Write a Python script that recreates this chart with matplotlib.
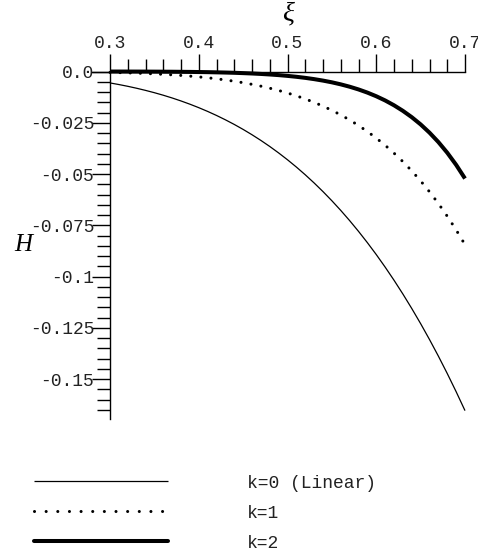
import matplotlib
matplotlib.use("Agg")
import matplotlib.pyplot as plt
from matplotlib.lines import Line2D
from matplotlib.ticker import FixedLocator, FixedFormatter

# ---- data -----------------------------------------------------------------
xi = [0.30, 0.31, 0.32, 0.33, 0.34, 0.35, 0.36, 0.37, 0.38, 0.39, 0.40,
      0.41, 0.42, 0.43, 0.44, 0.45, 0.46, 0.47, 0.48, 0.49, 0.50,
      0.51, 0.52, 0.53, 0.54, 0.55, 0.56, 0.57, 0.58, 0.59, 0.60,
      0.61, 0.62, 0.63, 0.64, 0.65, 0.66, 0.67, 0.68, 0.69, 0.70]

# k = 0 (linear)
H_k0 = [-0.00558, -0.00636, -0.00722, -0.00817, -0.00921, -0.01034,
        -0.01157, -0.01291, -0.01437, -0.01594, -0.01764, -0.01947,
        -0.02144, -0.02356, -0.02582, -0.02825, -0.03085, -0.03362,
        -0.03657, -0.03972, -0.04306, -0.04661, -0.05038, -0.05437,
        -0.05859, -0.06305, -0.06776, -0.07273, -0.07797, -0.08349,
        -0.08929, -0.09540, -0.10181, -0.10854, -0.11560, -0.12299,
        -0.13074, -0.13884, -0.14732, -0.15618, -0.16543]

# k = 1
H_k1 = [-0.00044, -0.00054, -0.00066, -0.00080, -0.00096, -0.00115,
        -0.00137, -0.00162, -0.00191, -0.00225, -0.00263, -0.00306,
        -0.00356, -0.00412, -0.00475, -0.00546, -0.00626, -0.00715,
        -0.00815, -0.00925, -0.01049, -0.01186, -0.01338, -0.01505,
        -0.01690, -0.01894, -0.02118, -0.02363, -0.02633, -0.02927,
        -0.03249, -0.03598, -0.03982, -0.04396, -0.04848, -0.05336,
        -0.05868, -0.06438, -0.07059, -0.07726, -0.08447]

# k = 2
H_k2 = [-0.00002, -0.00002, -0.00003, -0.00004, -0.00005, -0.00007,
        -0.00009, -0.00012, -0.00016, -0.00020, -0.00026, -0.00032,
        -0.00041, -0.00051, -0.00063, -0.00079, -0.00097, -0.00119,
        -0.00145, -0.00176, -0.00214, -0.00258, -0.00310, -0.00372,
        -0.00444, -0.00528, -0.00627, -0.00742, -0.00875, -0.01029,
        -0.01207, -0.01412, -0.01648, -0.01919, -0.02228, -0.02581,
        -0.02984, -0.03442, -0.03963, -0.04553, -0.05221]

x_major = [0.3, 0.4, 0.5, 0.6, 0.7]
x_major_labels = ["0.3", "0.4", "0.5", "0.6", "0.7"]
x_minor = [0.32, 0.34, 0.36, 0.38, 0.42, 0.44, 0.46, 0.48, 0.52, 0.54,
           0.56, 0.58, 0.62, 0.64, 0.66, 0.68]

y_major = [0.0, -0.025, -0.05, -0.075, -0.1, -0.125, -0.15]
y_major_labels = ["0.0", "-0.025", "-0.05", "-0.075", "-0.1", "-0.125", "-0.15"]
y_minor = [-0.005 * i for i in range(1, 34) if i % 5 != 0]

legend_labels = ["k=0 (Linear)", "k=1", "k=2"]

# ---- figure ---------------------------------------------------------------
W, H = 478, 558
DPI = 100
fig = plt.figure(figsize=(W / DPI, H / DPI), dpi=DPI)
fig.patch.set_facecolor("white")

# axes fill the whole canvas; limits chosen so the origin (0.3, 0) sits
# at pixel (110, 71.5) with 887.5 px per unit in x and 2050 px per unit in y
ax = fig.add_axes([0, 0, 1, 1])
px_x, px_y = 887.5, 2050.0
ox, oy = 110.0, 71.5
ax.set_xlim(0.3 - ox / px_x, 0.3 + (W - ox) / px_x)
ax.set_ylim(-(H - oy) / px_y, oy / px_y)
ax.patch.set_alpha(0)

mono = "Liberation Mono"
fs = 13

# axes through (0.3, 0)
for s in ("bottom", "right"):
    ax.spines[s].set_visible(False)
ax.spines["top"].set_position(("data", 0.0))
ax.spines["left"].set_position(("data", 0.3))
ax.spines["top"].set_bounds(0.28, 0.7)
ax.spines["left"].set_bounds(-0.1694, 0.0)
for s in ("top", "left"):
    ax.spines[s].set_linewidth(1.0)
    ax.spines[s].set_color("black")

ax.xaxis.set_ticks_position("top")
ax.yaxis.set_ticks_position("left")
ax.xaxis.set_major_locator(FixedLocator(x_major))
ax.xaxis.set_major_formatter(FixedFormatter(x_major_labels))
ax.xaxis.set_minor_locator(FixedLocator(x_minor))
ax.yaxis.set_major_locator(FixedLocator(y_major))
ax.yaxis.set_major_formatter(FixedFormatter(y_major_labels))
ax.yaxis.set_minor_locator(FixedLocator(y_minor))

ax.tick_params(axis="x", which="major", direction="out", length=13.3,
               width=1.0, pad=0.5, labelsize=fs)
ax.tick_params(axis="x", which="minor", direction="out", length=9.4, width=1.0)
ax.tick_params(axis="y", which="major", direction="out", length=13.3,
               width=1.0, pad=-2.0, labelsize=fs)
ax.tick_params(axis="y", which="minor", direction="out", length=9.4, width=1.0)
for lab in ax.get_xticklabels() + ax.get_yticklabels():
    lab.set_fontfamily(mono)
    lab.set_color("#222222")

# curves
ax.plot(xi, H_k0, color="black", lw=0.9, solid_capstyle="butt",
        solid_joinstyle="round", clip_on=False)
ax.plot(xi, H_k1, color="black", lw=2.2, linestyle=(0, (0.01, 3.3)),
        dash_capstyle="round", clip_on=False)
ax.plot(xi, H_k2, color="black", lw=2.9, solid_capstyle="butt",
        solid_joinstyle="round", clip_on=False)

# axis names
serif = "Liberation Serif"
ax.text(0.5, (oy - 20) / px_y, "\u03be", family=serif, style="italic",
        fontsize=20, ha="center", va="baseline")
ax.text(0.3 - (ox - 23) / px_x, -(245 - oy) / px_y, "H", family=serif,
        style="italic", fontsize=18, ha="center", va="center")

# legend drawn below the plot (figure pixel positions)
def fx(p):
    return p / W

def fy(p):
    return 1 - p / H

legend_rows = [481, 511, 541]
styles = [
    dict(lw=0.9, linestyle="-", solid_capstyle="butt"),
    dict(lw=2.2, linestyle=(0, (0.01, 3.8)), dash_capstyle="round"),
    dict(lw=2.9, linestyle="-", solid_capstyle="round"),
]
for row, st, lab, ty in zip(legend_rows, styles, legend_labels, [483, 513, 544]):
    fig.add_artist(Line2D([fx(34), fx(168)], [fy(row), fy(row)],
                          transform=fig.transFigure, color="black", **st))
    fig.text(fx(247), fy(ty), lab, family=mono, fontsize=fs,
             ha="left", va="center", color="#222222")

fig.savefig("out.png", dpi=DPI, facecolor="white")
